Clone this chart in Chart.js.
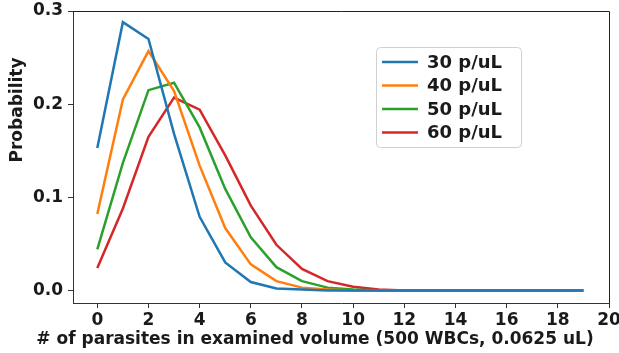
<!DOCTYPE html>
<html>
<head>
<meta charset="utf-8">
<script src="https://cdn.jsdelivr.net/npm/chart.js@4"></script>
<style>
  html, body { margin: 0; padding: 0; background: #fff; }
  #wrap { width: 619px; height: 353px; position: relative; }
</style>
</head>
<body>
<div id="wrap"><canvas id="chart" width="619" height="353"></canvas></div>
<script>
  const counts = [0,1,2,3,4,5,6,7,8,9,10,11,12,13,14,15,16,17,18,19];
  const labels = ['30 p/uL', '40 p/uL', '50 p/uL', '60 p/uL'];
  const p30 = [0.153, 0.288, 0.270, 0.168, 0.079, 0.030, 0.009, 0.002, 0.001, 0.000, 0, 0, 0, 0, 0, 0, 0, 0, 0, 0];
  const p40 = [0.082, 0.205, 0.257, 0.214, 0.134, 0.067, 0.028, 0.010, 0.003, 0.001, 0.000, 0, 0, 0, 0, 0, 0, 0, 0, 0];
  const p50 = [0.044, 0.137, 0.215, 0.223, 0.175, 0.109, 0.057, 0.025, 0.010, 0.003, 0.001, 0.000, 0, 0, 0, 0, 0, 0, 0, 0];
  const p60 = [0.024, 0.088, 0.165, 0.207, 0.194, 0.145, 0.091, 0.049, 0.023, 0.010, 0.004, 0.001, 0.000, 0, 0, 0, 0, 0, 0, 0];
  const colors = ['#1f77b4', '#ff7f0e', '#2ca02c', '#d62728'];
  const xTicks = [0, 2, 4, 6, 8, 10, 12, 14, 16, 18, 20];
  const yTicks = [0.0, 0.1, 0.2, 0.3];
  const xTitle = '# of parasites in examined volume (500 WBCs, 0.0625 uL)';
  const yTitle = 'Probability';

  const FONT = 'DejaVu Sans';

  // frame on top/right + axis titles placed like the original
  const extras = {
    id: 'extras',
    afterDraw(chart) {
      const ctx = chart.ctx;
      const a = chart.chartArea;
      ctx.save();
      ctx.strokeStyle = '#222';
      ctx.lineWidth = 1;
      ctx.beginPath();
      ctx.moveTo(a.left, a.top + 0.5);
      ctx.lineTo(a.right + 0.5, a.top + 0.5);
      ctx.lineTo(a.right + 0.5, a.bottom);
      ctx.stroke();

      ctx.fillStyle = '#1a1a1a';
      ctx.font = 'bold 17px ' + FONT;
      ctx.textAlign = 'center';
      ctx.textBaseline = 'middle';
      ctx.fillText(xTitle, 315, 340);
      ctx.translate(18, 110);
      ctx.rotate(-Math.PI / 2);
      ctx.fillText(yTitle, 0, 0);
      ctx.restore();
    }
  };

  const insideLegend = {
    id: 'insideLegend',
    afterDraw(chart) {
      const ctx = chart.ctx;
      const x = 376, y = 47, w = 145, h = 100;
      ctx.save();
      ctx.fillStyle = 'rgba(255,255,255,0.8)';
      ctx.strokeStyle = '#d0d0d0';
      ctx.lineWidth = 1;
      ctx.beginPath();
      ctx.roundRect(x + 0.5, y + 0.5, w, h, 4);
      ctx.fill();
      ctx.stroke();
      ctx.font = 'bold 18px ' + FONT;
      ctx.textBaseline = 'middle';
      chart.data.datasets.forEach((ds, i) => {
        const ry = 62 + i * 23.5;
        ctx.strokeStyle = ds.borderColor;
        ctx.lineWidth = 2.5;
        ctx.beginPath();
        ctx.moveTo(382, ry);
        ctx.lineTo(418, ry);
        ctx.stroke();
        ctx.fillStyle = '#1a1a1a';
        ctx.fillText(ds.label, 427, ry + 1);
      });
      ctx.restore();
    }
  };

  const series = [p30, p40, p50, p60];
  const datasets = series.map((s, i) => ({
    label: labels[i],
    data: counts.map((c, j) => ({ x: c, y: s[j] })),
    borderColor: colors[i],
    backgroundColor: colors[i],
    borderWidth: 2.5,
    pointRadius: 0,
    tension: 0,
    fill: false
  }));

  new Chart(document.getElementById('chart'), {
    type: 'line',
    data: { datasets },
    plugins: [extras, insideLegend],
    options: {
      responsive: false,
      animation: false,
      layout: { padding: { top: 11, right: 10, left: 0, bottom: 0 } },
      plugins: { legend: { display: false }, tooltip: { enabled: false } },
      scales: {
        x: {
          type: 'linear',
          min: -0.95,
          max: 20,
          afterBuildTicks: a => { a.ticks = xTicks.map(v => ({ value: v })); },
          afterFit: a => { a.height = 50; a.paddingLeft = 0; a.paddingRight = 0; },
          ticks: { color: '#1a1a1a', font: { family: FONT, size: 17, weight: 'bold' }, padding: 2, maxRotation: 0 },
          grid: { drawOnChartArea: false, drawTicks: true, tickLength: 5, color: '#333' },
          border: { display: true, color: '#333', width: 1 }
        },
        y: {
          type: 'linear',
          min: -0.0135,
          max: 0.3,
          afterBuildTicks: a => { a.ticks = yTicks.map(v => ({ value: v })); },
          afterFit: a => { a.width = 73; a.paddingTop = 0; a.paddingBottom = 0; },
          ticks: { color: '#1a1a1a', font: { family: FONT, size: 17, weight: 'bold' }, padding: 5, callback: v => Number(v).toFixed(1) },
          grid: { drawOnChartArea: false, drawTicks: true, tickLength: 5, color: '#333' },
          border: { display: true, color: '#333', width: 1 }
        }
      }
    }
  });
</script>
</body>
</html>
